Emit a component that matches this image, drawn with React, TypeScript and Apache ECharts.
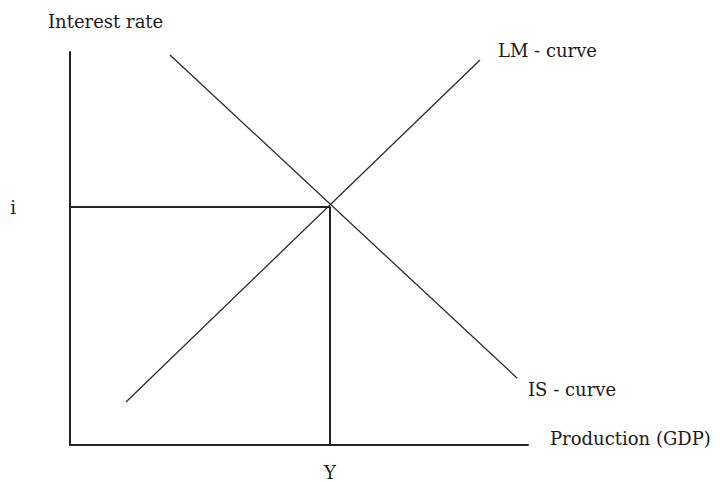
import React, { useEffect, useRef } from "react";
import * as echarts from "echarts";

// Axis extents (abstract units)
const xRange = [0, 458];
const yRange = [0, 393];

// Equilibrium point (Y, i)
const equilibrium = [260, 238];

// Curves
const isCurve = [
  [100, 390],
  [447, 67],
];
const lmCurve = [
  [56, 43],
  [410, 385],
];

const xTickLabels = ["Y"];
const yTickLabels = ["i"];

const FONT = "DejaVu Serif";
const FS = 18;

export default function App() {
  const ref = useRef<HTMLDivElement>(null);
  useEffect(() => {
    if (!ref.current) return;
    const chart = echarts.init(ref.current, undefined, { renderer: "svg" });
    const [ex, ey] = equilibrium;
    const font = `${FS}px "${FONT}"`;
    chart.setOption({
      animation: false,
      backgroundColor: "#ffffff",
      grid: { left: 70, top: 52, width: 458, height: 393 },
      xAxis: {
        type: "value",
        min: xRange[0],
        max: xRange[1],
        splitLine: { show: false },
        axisLine: { show: true, lineStyle: { color: "#222", width: 2 } },
        axisTick: { show: false },
        axisLabel: {
          customValues: [ex],
          formatter: () => xTickLabels[0],
          fontFamily: FONT,
          fontSize: FS,
          color: "#1a1a1a",
          margin: 18,
        },
      },
      yAxis: {
        type: "value",
        min: yRange[0],
        max: yRange[1],
        splitLine: { show: false },
        axisLine: { show: true, lineStyle: { color: "#222", width: 2 } },
        axisTick: { show: false },
        axisLabel: {
          customValues: [ey],
          formatter: () => yTickLabels[0],
          fontFamily: FONT,
          fontSize: FS,
          color: "#1a1a1a",
          margin: 54,
        },
      },
      series: [
        {
          type: "line",
          data: isCurve,
          symbol: "none",
          lineStyle: { color: "#2a2a2a", width: 1.3 },
        },
        {
          type: "line",
          data: lmCurve,
          symbol: "none",
          lineStyle: { color: "#2a2a2a", width: 1.3 },
        },
        {
          type: "line",
          data: [
            [xRange[0], ey],
            [ex, ey],
            [ex, yRange[0]],
          ],
          symbol: "none",
          lineStyle: { color: "#222", width: 2 },
        },
      ],
      graphic: [
        { type: "text", left: 48, top: 12, style: { text: "Interest rate", font, fill: "#1a1a1a" } },
        { type: "text", left: 498, top: 41, style: { text: "LM - curve", font, fill: "#1a1a1a" } },
        { type: "text", left: 528, top: 380, style: { text: "IS - curve", font, fill: "#1a1a1a" } },
        { type: "text", left: 550, top: 429, style: { text: "Production (GDP)", font, fill: "#1a1a1a" } },
      ],
    });
    return () => chart.dispose();
  }, []);
  return (
    <div
      ref={ref}
      style={{ position: "fixed", left: 0, top: 0, width: 720, height: 482 }}
    />
  );
}
